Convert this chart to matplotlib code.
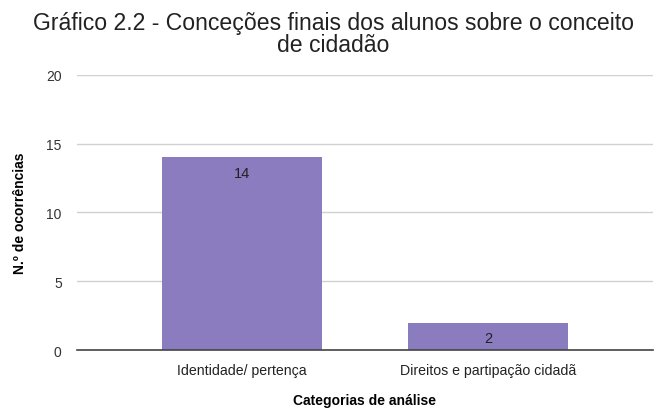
import matplotlib.pyplot as plt

categorias = ['Identidade/ pertença', 'Direitos e partipação cidadã']
ocorrencias = [14, 2]
y_ticks = [0, 5, 10, 15, 20]

plt.rcParams['font.family'] = ['Liberation Sans', 'DejaVu Sans']

fig = plt.figure(figsize=(6.67, 4.14), dpi=100)
ax = fig.add_axes([0.1154, 0.152, 0.8636, 0.665])

x = list(range(len(categorias)))
bars = ax.bar(x, ocorrencias, width=0.65, color='#8b7cc0', zorder=3)
ax.bar_label(bars, labels=[str(v) for v in ocorrencias], label_type='edge',
             padding=-16, fontsize=10.5, color='#222222')

ax.set_xlim(-0.67, 1.67)
ax.set_ylim(0, 20)
ax.set_yticks(y_ticks)
ax.set_xticks(x)
ax.set_xticklabels(categorias, fontsize=10.2, color='#222222')
ax.tick_params(axis='y', length=0, labelsize=10, colors='#333333', pad=11)
ax.tick_params(axis='x', length=0, pad=9)

ax.grid(axis='y', color='#d0d0d0', linewidth=1, zorder=0)
for s in ['top', 'right', 'left']:
    ax.spines[s].set_visible(False)
ax.spines['bottom'].set_color('#444444')
ax.spines['bottom'].set_linewidth(1.2)
ax.spines['bottom'].set_zorder(4)

ax.set_xlabel('Categorias de análise', fontsize=10, fontweight='bold', labelpad=12)
ax.set_ylabel('N.º de ocorrências', fontsize=10, fontweight='bold', labelpad=14)

fig.text(0.5, 0.97, 'Gráfico 2.2 - Conceções finais dos alunos sobre o conceito\nde cidadão',
         ha='center', va='top', fontsize=16.6, linespacing=0.9, color='#222222')

fig.savefig('out.png', dpi=100)
